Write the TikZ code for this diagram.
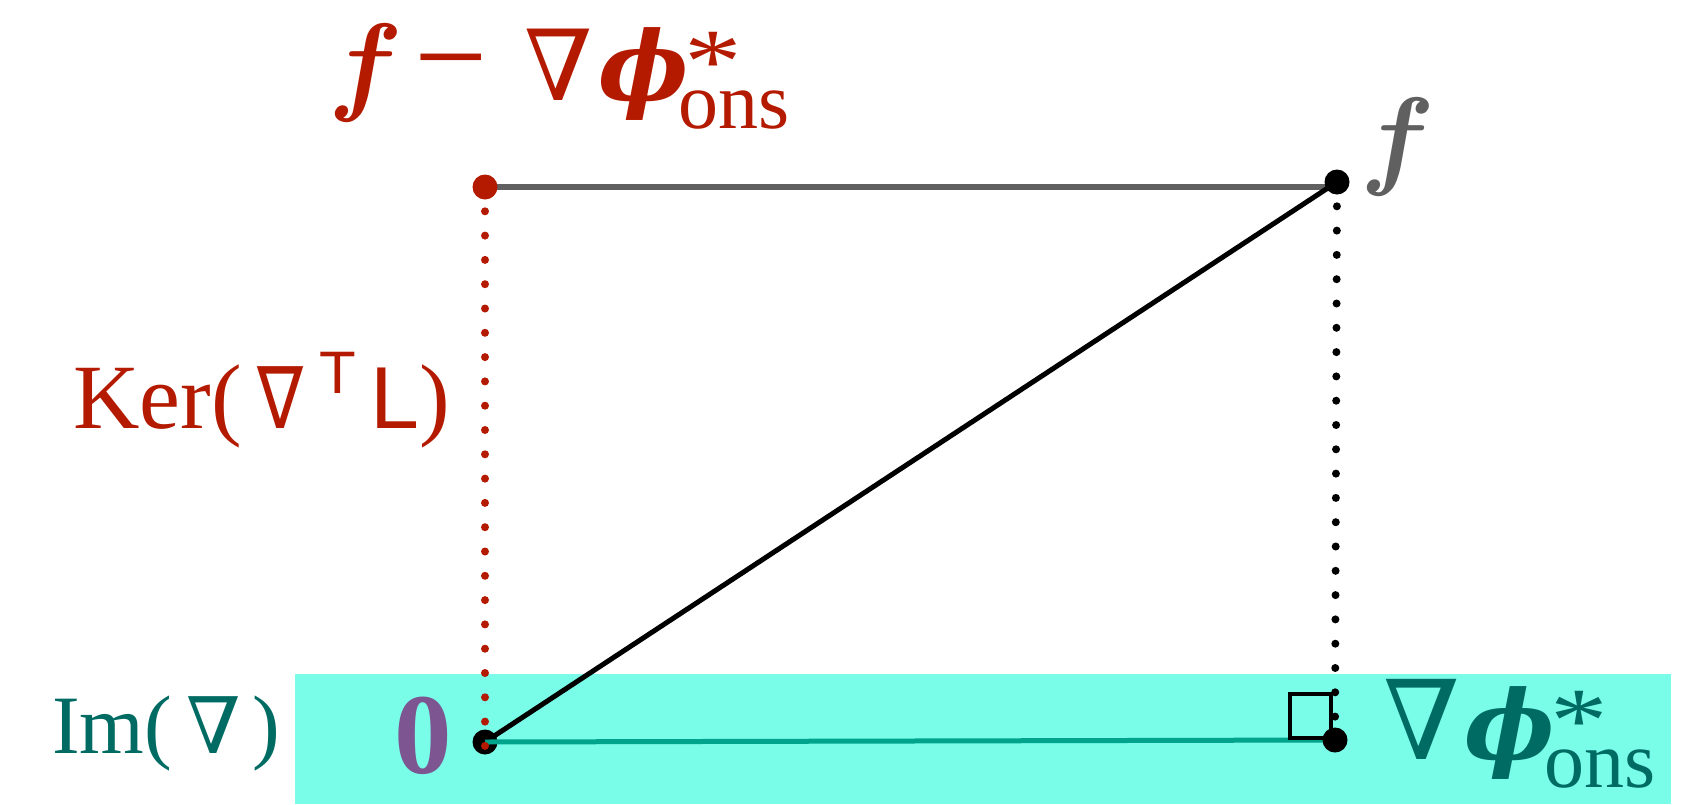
\documentclass[tikz,border=0pt]{standalone}
\usepackage{bm}
\usepackage{fontspec}
\setmainfont{Liberation Serif}
\newfontfamily\nablaSerif{DejaVu Serif}
\newfontfamily\nablaSans{DejaVu Sans}
\newfontfamily\opFont{Liberation Sans}

% bold math symbol blown up to 110pt
\newcommand{\bigSym}[1]{\scalebox{11}{\fontsize{10}{12}\selectfont$\bm{#1}$}}
% phi with star on top and "ons" below
\newcommand{\phiOns}{{\nablaSerif\bfseries\itshape\fontsize{96}{96}\selectfont ϕ}\hspace{-10pt}\rlap{\raisebox{8pt}{\fontsize{92}{92}\selectfont\hspace{6pt}\scalebox{1.25}[1]{*}}}\raisebox{-28pt}{\fontsize{80}{80}\selectfont ons}}

\begin{document}
\begin{tikzpicture}[x=1pt, y=-1pt]
    \definecolor{kerColour}{HTML}{B41A00}
    \definecolor{imColour}{HTML}{006B63}
    \definecolor{bandColour}{HTML}{79FDE9}
    \definecolor{lineColour}{HTML}{00A38B}
    \definecolor{greyColour}{HTML}{606060}
    \definecolor{zeroColour}{HTML}{7D5590}

    \tikzset{
        dotLine/.style={line width=8pt, line cap=round, dash pattern=on 0pt off 24.3pt},
        ptDot/.style={radius=12.5pt}
    }

    \useasboundingbox (0,0) rectangle (1701,804);

    % Im band
    \fill[bandColour] (295,674) rectangle (1671,804);

    % Points
    \coordinate (kerTop) at (485,187);
    \coordinate (fPt) at (1337,182);
    \coordinate (origin) at (485,742);
    \coordinate (proj) at (1335,740);
    \coordinate (kerEnd) at (485,757);

    % Lines
    \draw[greyColour, line width=5.5pt] (kerTop) -- (kerTop -| fPt);
    \draw[black, line width=5pt] (origin) -- (fPt);
    \fill[black] (origin) circle[ptDot];
    \draw[lineColour, line width=5pt] (origin) -- (proj);

    % Right angle
    \draw[black, line width=4.5pt] (proj) ++(-4,-2) rectangle ++(-41,-44);

    % Dotted projections
    \draw[black, dotLine] (fPt) -- (proj);
    \draw[kerColour, dotLine] (kerTop) -- (kerEnd);

    \fill[kerColour] (kerTop) circle[ptDot];
    \fill[black] (fPt) circle[ptDot];
    \fill[black] (proj) circle[ptDot];

    % Labels
    \node[anchor=base west, inner sep=0pt, text=kerColour, font=\fontsize{110}{120}\selectfont] (topLabel) at (328,100)
        {\bigSym{f}\hspace{12pt}{\fontsize{130}{130}\selectfont −}\hspace{36pt}{\nablaSerif\fontsize{98}{98}\selectfont ∇}\hspace{6pt}\phiOns};
    \node[anchor=base west, inner sep=0pt, text=greyColour, font=\fontsize{110}{120}\selectfont] (fLabel) at (1360,174) {\bigSym{f}};
    \node[anchor=base west, inner sep=0pt, text=kerColour, font=\fontsize{92}{100}\selectfont] (kerLabel) at (73,428)
        {Ker(\hspace{16pt}{\nablaSans\fontsize{86}{86}\selectfont\scalebox{0.8}[1]{∇}}\hspace{16pt}\raisebox{35pt}{\opFont\fontsize{60}{60}\selectfont T}\hspace{14pt}{\opFont\fontsize{88}{88}\selectfont L})};
    \node[anchor=base west, inner sep=0pt, text=imColour, font=\fontsize{83}{90}\selectfont] (imLabel) at (52,753)
        {Im(\hspace{14pt}{\nablaSerif\fontsize{78}{78}\selectfont ∇}\hspace{12pt})};
    \node[anchor=base west, inner sep=0pt, text=zeroColour, font=\fontsize{115}{120}\selectfont\bfseries] (zeroLabel) at (394,773) {0};
    \node[anchor=base west, inner sep=0pt, text=imColour, font=\fontsize{110}{120}\selectfont] (gradLabel) at (1383,759)
        {{\nablaSerif\fontsize{110}{110}\selectfont ∇}\hspace{4pt}\phiOns};
\end{tikzpicture}
\end{document}
